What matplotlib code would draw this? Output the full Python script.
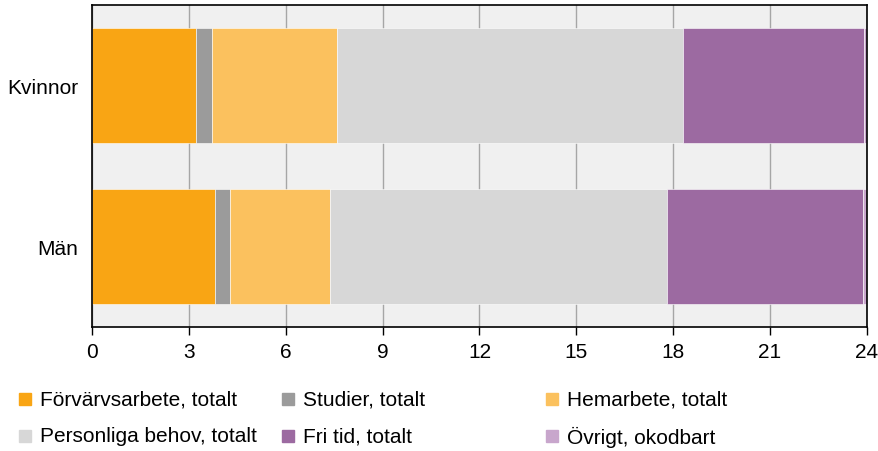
#!/usr/bin/env python3
"""Tidsanvändning per dygn, kvinnor och män (stacked horizontal bars)."""
import numpy as np
import matplotlib.pyplot as plt
from matplotlib.patches import Rectangle

plt.rcParams["font.family"] = ["Liberation Sans", "DejaVu Sans"]

groups = ["Kvinnor", "Män"]
activities = ["Förvärvsarbete, totalt", "Studier, totalt", "Hemarbete, totalt",
              "Personliga behov, totalt", "Fri tid, totalt", "Övrigt, okodbart"]
# hours per day, [Kvinnor, Män]
forvarv = [3.20, 3.81]
studier = [0.52, 0.47]
hemarbete = [3.85, 3.08]
personliga = [10.75, 10.44]
fritid = [5.59, 6.08]
ovrigt = [0.09, 0.12]
xticks = [0, 3, 6, 9, 12, 15, 18, 21, 24]

colors = ["#F9A514", "#9B9B9B", "#FBC15E", "#D7D7D7", "#9C6AA1", "#C8A6CC"]
series = [forvarv, studier, hemarbete, personliga, fritid, ovrigt]

fig = plt.figure(figsize=(8.79, 4.52), dpi=100)
ax = fig.add_axes([0.105, 0.274, 0.881, 0.713])
ax.set_facecolor("#F0F0F0")

ypos = np.array([1, 0])
left = np.zeros(len(groups))
for vals, col in zip(series, colors):
    ax.barh(ypos, vals, left=left, height=0.715, color=col,
            edgecolor="white", linewidth=0.4, zorder=2)
    left += np.array(vals)

ax.set_xlim(0, 24)
ax.set_ylim(-0.5, 1.5)
ax.set_xticks(xticks)
ax.set_xticklabels([str(t) for t in xticks], fontsize=15)
ax.set_yticks(ypos)
ax.set_yticklabels(groups, fontsize=15)
ax.tick_params(axis="y", length=0, pad=10)
ax.tick_params(axis="x", length=6, width=1, color="black", pad=5)
ax.xaxis.grid(True, color="#A6A6A6", linewidth=1, zorder=1)
ax.set_axisbelow(True)
for sp in ax.spines.values():
    sp.set_color("black")
    sp.set_linewidth(1.2)

# ── Legend, laid out by hand in a fixed grid ───────────────────────────────────
W, H = 879, 452
col_x = [19, 282, 546]
row_y = [400, 437]
for i, (lab, col) in enumerate(zip(activities, colors)):
    r, c = divmod(i, 3)
    x0, yc = col_x[c], row_y[r]
    fig.patches.append(Rectangle((x0 / W, 1 - (yc + 6) / H), 12 / W, 12 / H,
                                 transform=fig.transFigure, color=col))
    fig.text((x0 + 21) / W, 1 - yc / H, lab, fontsize=15, va="center", ha="left")

fig.savefig("out.png", dpi=100)
